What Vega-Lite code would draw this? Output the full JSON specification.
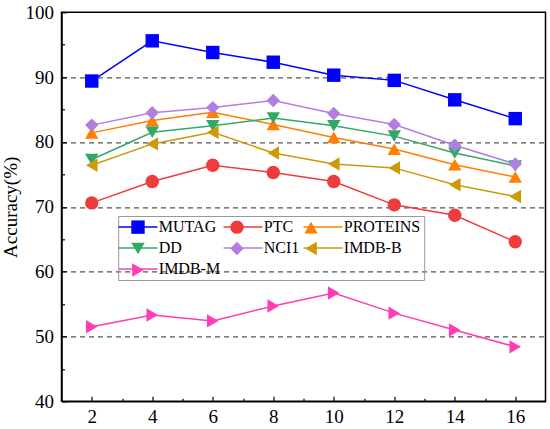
{
  "$schema": "https://vega.github.io/schema/vega-lite/v6.json",
  "width": 484,
  "height": 389,
  "autosize": {"type": "none"},
  "padding": {"left": 61.5, "top": 12.3, "right": 4.5, "bottom": 27.7},
  "config": {
    "view": {"stroke": "black", "strokeWidth": 1.5},
    "font": "Liberation Serif"
  },
  "data": {
    "values": [
      {"k": 2, "dataset": "MUTAG", "acc": 89.4},
      {"k": 4, "dataset": "MUTAG", "acc": 95.6},
      {"k": 6, "dataset": "MUTAG", "acc": 93.8},
      {"k": 8, "dataset": "MUTAG", "acc": 92.3},
      {"k": 10, "dataset": "MUTAG", "acc": 90.3},
      {"k": 12, "dataset": "MUTAG", "acc": 89.5},
      {"k": 14, "dataset": "MUTAG", "acc": 86.5},
      {"k": 16, "dataset": "MUTAG", "acc": 83.6},
      {"k": 2, "dataset": "PTC", "acc": 70.6},
      {"k": 4, "dataset": "PTC", "acc": 73.9},
      {"k": 6, "dataset": "PTC", "acc": 76.4},
      {"k": 8, "dataset": "PTC", "acc": 75.3},
      {"k": 10, "dataset": "PTC", "acc": 73.9},
      {"k": 12, "dataset": "PTC", "acc": 70.3},
      {"k": 14, "dataset": "PTC", "acc": 68.7},
      {"k": 16, "dataset": "PTC", "acc": 64.6},
      {"k": 2, "dataset": "PROTEINS", "acc": 81.4},
      {"k": 4, "dataset": "PROTEINS", "acc": 83.3},
      {"k": 6, "dataset": "PROTEINS", "acc": 84.6},
      {"k": 8, "dataset": "PROTEINS", "acc": 82.7},
      {"k": 10, "dataset": "PROTEINS", "acc": 80.7},
      {"k": 12, "dataset": "PROTEINS", "acc": 78.9},
      {"k": 14, "dataset": "PROTEINS", "acc": 76.5},
      {"k": 16, "dataset": "PROTEINS", "acc": 74.6},
      {"k": 2, "dataset": "DD", "acc": 77.3},
      {"k": 4, "dataset": "DD", "acc": 81.5},
      {"k": 6, "dataset": "DD", "acc": 82.5},
      {"k": 8, "dataset": "DD", "acc": 83.7},
      {"k": 10, "dataset": "DD", "acc": 82.5},
      {"k": 12, "dataset": "DD", "acc": 80.9},
      {"k": 14, "dataset": "DD", "acc": 78.3},
      {"k": 16, "dataset": "DD", "acc": 76.3},
      {"k": 2, "dataset": "NCI1", "acc": 82.6},
      {"k": 4, "dataset": "NCI1", "acc": 84.5},
      {"k": 6, "dataset": "NCI1", "acc": 85.3},
      {"k": 8, "dataset": "NCI1", "acc": 86.4},
      {"k": 10, "dataset": "NCI1", "acc": 84.4},
      {"k": 12, "dataset": "NCI1", "acc": 82.7},
      {"k": 14, "dataset": "NCI1", "acc": 79.5},
      {"k": 16, "dataset": "NCI1", "acc": 76.6},
      {"k": 2, "dataset": "IMDB-B", "acc": 76.4},
      {"k": 4, "dataset": "IMDB-B", "acc": 79.7},
      {"k": 6, "dataset": "IMDB-B", "acc": 81.5},
      {"k": 8, "dataset": "IMDB-B", "acc": 78.3},
      {"k": 10, "dataset": "IMDB-B", "acc": 76.6},
      {"k": 12, "dataset": "IMDB-B", "acc": 76.0},
      {"k": 14, "dataset": "IMDB-B", "acc": 73.4},
      {"k": 16, "dataset": "IMDB-B", "acc": 71.6},
      {"k": 2, "dataset": "IMDB-M", "acc": 51.5},
      {"k": 4, "dataset": "IMDB-M", "acc": 53.3},
      {"k": 6, "dataset": "IMDB-M", "acc": 52.4},
      {"k": 8, "dataset": "IMDB-M", "acc": 54.7},
      {"k": 10, "dataset": "IMDB-M", "acc": 56.7},
      {"k": 12, "dataset": "IMDB-M", "acc": 53.6},
      {"k": 14, "dataset": "IMDB-M", "acc": 51.0},
      {"k": 16, "dataset": "IMDB-M", "acc": 48.4}
    ]
  },
  "encoding": {
    "x": {
      "field": "k",
      "type": "quantitative",
      "scale": {"domain": [1, 17], "nice": false, "zero": false},
      "axis": {
        "title": null,
        "values": [2, 3, 4, 5, 6, 7, 8, 9, 10, 11, 12, 13, 14, 15, 16],
        "labelExpr": "datum.value % 2 == 0 ? datum.label : ''",
        "tickSize": {"condition": {"test": "datum.value % 2 != 0", "value": -3}, "value": -5},
        "labelPadding": 11,
        "labelFont": "Liberation Serif",
        "labelFontSize": 19,
        "labelColor": "black",
        "tickColor": "black",
        "tickWidth": 1.2,
        "domainColor": "black",
        "domainWidth": 1.5,
        "grid": false
      }
    },
    "y": {
      "field": "acc",
      "type": "quantitative",
      "scale": {"domain": [40, 100], "nice": false, "zero": false},
      "axis": {
        "title": "Accuracy(%)",
        "titleFont": "Liberation Serif",
        "titleFontSize": 19,
        "titleFontWeight": "normal",
        "titleColor": "black",
        "titlePadding": 5,
        "values": [40, 45, 50, 55, 60, 65, 70, 75, 80, 85, 90, 95, 100],
        "labelExpr": "datum.value % 10 == 0 ? datum.label : ''",
        "tickSize": {"condition": {"test": "datum.value % 10 != 0", "value": -3}, "value": -5},
        "labelPadding": 13,
        "labelFont": "Liberation Serif",
        "labelFontSize": 19,
        "labelColor": "black",
        "tickColor": "black",
        "tickWidth": 1.2,
        "domainColor": "black",
        "domainWidth": 1.5,
        "grid": true,
        "gridOpacity": {"condition": {"test": "datum.value % 10 == 0 && datum.value > 40 && datum.value < 100", "value": 1}, "value": 0},
        "gridDash": [5, 4],
        "gridColor": "#555555",
        "gridWidth": 1.2
      }
    }
  },
  "layer": [
    {
      "mark": {"type": "line", "strokeWidth": 1.5},
      "encoding": {
        "color": {
          "field": "dataset",
          "type": "nominal",
          "scale": {
            "domain": ["MUTAG", "PTC", "PROTEINS", "DD", "NCI1", "IMDB-B", "IMDB-M"],
            "range": ["#0000FF", "#EE3B3B", "#FF7F00", "#33A866", "#B27FDF", "#CC9A06", "#FF3DB4"]
          },
          "legend": {
            "orient": "none",
            "direction": "horizontal",
            "legendX": 56.7,
            "legendY": 203.7,
            "columns": 3,
            "title": null,
            "symbolType": "M-2.9,0H2.9",
            "symbolSize": 180,
            "symbolStrokeWidth": 1.5,
            "symbolOffset": 8.8,
            "labelOffset": 12.8,
            "labelFont": "Liberation Serif",
            "labelFontSize": 16,
            "labelColor": "black",
            "labelLimit": 0,
            "padding": 3,
            "rowPadding": 5,
            "columnPadding": 0,
            "strokeColor": "#999999"
          }
        }
      }
    },
    {
      "mark": {"type": "point", "filled": true, "size": 180, "opacity": 1, "strokeWidth": 0},
      "encoding": {
        "fill": {
          "field": "dataset",
          "type": "nominal",
          "scale": {
            "domain": ["IMDB-M", "IMDB-B", "NCI1", "DD", "PROTEINS", "PTC", "MUTAG"],
            "range": ["#FF3DB4", "#CC9A06", "#B27FDF", "#33A866", "#FF7F00", "#EE3B3B", "#0000FF"]
          },
          "legend": {
            "values": ["MUTAG", "PTC", "PROTEINS", "DD", "NCI1", "IMDB-B", "IMDB-M"],
            "orient": "none",
            "direction": "horizontal",
            "legendX": 56.7,
            "legendY": 203.7,
            "columns": 3,
            "title": null,
            "symbolSize": 180,
            "symbolStrokeWidth": 1.5,
            "symbolStrokeColor": "transparent",
            "symbolOffset": 8.8,
            "labelOffset": 12.8,
            "labelFont": "Liberation Serif",
            "labelFontSize": 16,
            "labelColor": "transparent",
            "labelLimit": 0,
            "padding": 3,
            "rowPadding": 1.5,
            "columnPadding": 0
          }
        },
        "shape": {
          "field": "dataset",
          "type": "nominal",
          "scale": {
            "domain": ["IMDB-M", "IMDB-B", "NCI1", "DD", "PROTEINS", "PTC", "MUTAG"],
            "range": ["triangle-right", "triangle-left", "diamond", "triangle-down", "triangle-up", "circle", "square"]
          },
          "legend": {
            "values": ["MUTAG", "PTC", "PROTEINS", "DD", "NCI1", "IMDB-B", "IMDB-M"],
            "orient": "none",
            "direction": "horizontal",
            "legendX": 56.7,
            "legendY": 203.7,
            "columns": 3,
            "title": null,
            "symbolSize": 180,
            "symbolStrokeWidth": 1.5,
            "symbolStrokeColor": "transparent",
            "symbolOffset": 8.8,
            "labelOffset": 12.8,
            "labelFont": "Liberation Serif",
            "labelFontSize": 16,
            "labelColor": "transparent",
            "labelLimit": 0,
            "padding": 3,
            "rowPadding": 1.5,
            "columnPadding": 0
          }
        }
      }
    }
  ]
}
